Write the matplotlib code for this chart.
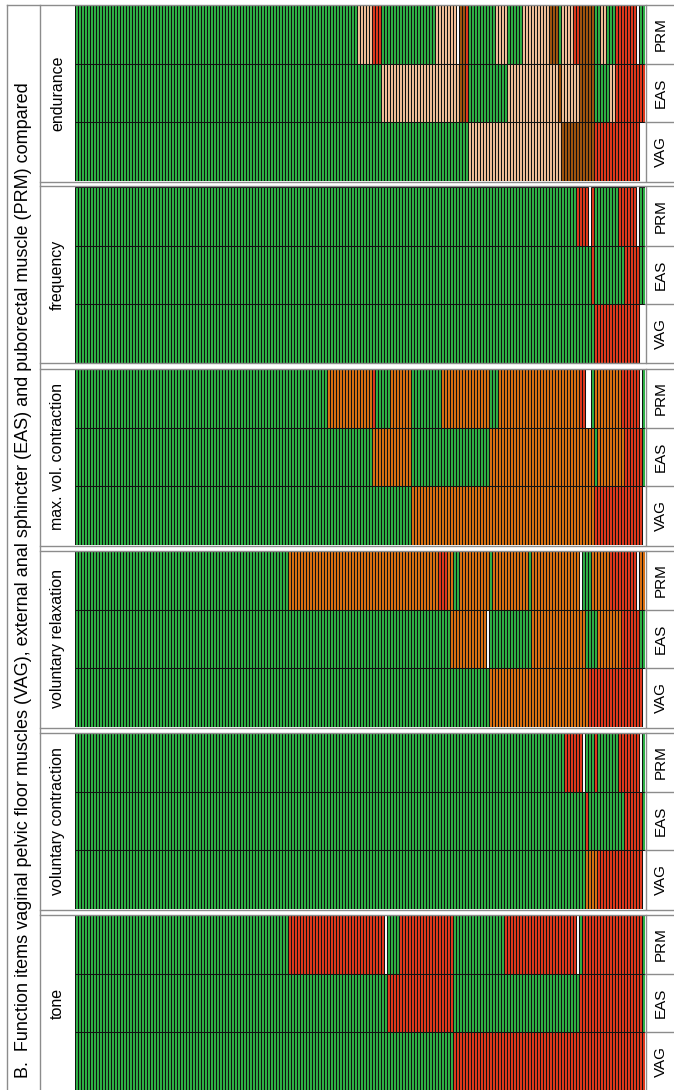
import numpy as np
import matplotlib
matplotlib.use("Agg")
import matplotlib.pyplot as plt
from matplotlib.lines import Line2D

plt.rcParams['font.family'] = ['Liberation Sans', 'DejaVu Sans']

# score colours per patient cell; "W" (missing) is left blank
COLORS = {
    "G": "#2fb447",
    "R": "#e4391d",
    "O": "#dd7211",
    "P": "#f6c39a",
    "B": "#a3560e",
}

TITLE = ("B.  Function items vaginal pelvic floor muscles (VAG), external anal "
         "sphincter (EAS) and puborectal muscle (PRM) compared")
panels = ["endurance", "frequency", "max. vol. contraction",
          "voluntary relaxation", "voluntary contraction", "tone"]
rows = ["PRM", "EAS", "VAG"]
n_patients = 190

# run-length coded scores, one patient per bar
endurance_prm = [("G", 94), ("P", 5), ("R", 3), ("G", 18), ("P", 7), ("W", 1),
                 ("B", 2), ("R", 1), ("G", 9), ("P", 4), ("G", 5), ("P", 9),
                 ("B", 3), ("G", 1), ("P", 4), ("R", 2), ("B", 5), ("G", 2),
                 ("P", 2), ("G", 3), ("R", 7), ("W", 1), ("G", 2)]
endurance_eas = [("G", 102), ("P", 26), ("B", 2), ("R", 1), ("G", 13), ("P", 17),
                 ("B", 1), ("P", 6), ("B", 5), ("G", 5), ("P", 2), ("R", 10)]
endurance_vag = [("G", 131), ("P", 31), ("B", 11), ("R", 15), ("W", 2)]

frequency_prm = [("G", 167), ("R", 4), ("W", 1), ("R", 1), ("G", 8), ("R", 6),
                 ("W", 1), ("G", 2)]
frequency_eas = [("G", 172), ("R", 1), ("G", 10), ("R", 5), ("G", 2)]
frequency_vag = [("G", 173), ("R", 15), ("W", 2)]

maxvol_prm = [("G", 84), ("O", 15), ("R", 1), ("G", 5), ("O", 7), ("G", 10),
              ("O", 16), ("G", 3), ("O", 27), ("R", 2), ("W", 2), ("G", 1),
              ("O", 9), ("R", 6), ("W", 1), ("G", 1)]
maxvol_eas = [("G", 99), ("O", 13), ("G", 26), ("O", 35), ("G", 1), ("O", 9),
              ("R", 6), ("G", 1)]
maxvol_vag = [("G", 112), ("O", 61), ("R", 16), ("W", 1)]

relax_prm = [("G", 71), ("O", 50), ("R", 3), ("O", 2), ("G", 2), ("O", 10),
             ("G", 1), ("O", 12), ("G", 1), ("O", 16), ("W", 1), ("G", 3),
             ("O", 6), ("R", 9), ("W", 1), ("O", 2)]
relax_eas = [("G", 125), ("O", 12), ("W", 1), ("G", 14), ("O", 18), ("G", 4),
             ("O", 8), ("R", 6), ("G", 2)]
relax_vag = [("G", 138), ("O", 33), ("R", 18), ("W", 1)]

contraction_prm = [("G", 163), ("R", 6), ("W", 1), ("G", 3), ("R", 1), ("G", 7),
                   ("R", 7), ("W", 1), ("G", 1)]
contraction_eas = [("G", 170), ("R", 1), ("G", 12), ("R", 6), ("G", 1)]
contraction_vag = [("G", 170), ("O", 4), ("R", 15), ("W", 1)]

tone_prm = [("G", 71), ("R", 32), ("W", 1), ("G", 4), ("R", 18), ("G", 17),
            ("R", 24), ("W", 1), ("G", 1), ("R", 20), ("G", 1)]
tone_eas = [("G", 104), ("R", 22), ("G", 42), ("R", 21), ("G", 1)]
tone_vag = [("G", 126), ("R", 64)]

scores = [
    [endurance_prm, endurance_eas, endurance_vag],
    [frequency_prm, frequency_eas, frequency_vag],
    [maxvol_prm, maxvol_eas, maxvol_vag],
    [relax_prm, relax_eas, relax_vag],
    [contraction_prm, contraction_eas, contraction_vag],
    [tone_prm, tone_eas, tone_vag],
]


def expand(runs):
    out = []
    for code, count in runs:
        out += [code] * count
    return out


W, H = 674, 1090
fig = plt.figure(figsize=(W / 100, H / 100), dpi=100)


def fx(x):
    return x / W


def fy(y):
    return 1 - y / H


def hline(y, x0, x1, color="#8c8c8c", lw=1.0):
    fig.add_artist(Line2D([fx(x0), fx(x1)], [fy(y), fy(y)], color=color, lw=lw))


def vline(x, y0, y1, color="#8c8c8c", lw=1.0):
    fig.add_artist(Line2D([fx(x), fx(x)], [fy(y0), fy(y1)], color=color, lw=lw))


# layout in pixels
x_left, x_title, x_data0, x_data1 = 7, 40, 75, 645
panel_top0, panel_pitch, panel_h = 5, 182, 176

# frame
hline(panel_top0, x_left, W)
vline(x_left, panel_top0, H)
vline(x_title, panel_top0, H)
fig.text(fx((x_left + x_title) / 2 + 0.5), fy(1078), TITLE,
         rotation=90, rotation_mode="anchor", ha="left", va="center",
         fontsize=13)

for i, (name, panel_scores) in enumerate(zip(panels, scores)):
    top = panel_top0 + panel_pitch * i
    bottom = top + panel_h
    ax = fig.add_axes([fx(x_data0), fy(bottom), fx(x_data1) - fx(x_data0),
                       fy(top) - fy(bottom)])
    for r, runs in enumerate(panel_scores):
        codes = expand(runs)
        idx = np.array([k for k, c in enumerate(codes) if c != "W"])
        cols = [COLORS[codes[k]] for k in idx]
        ax.bar(idx + 0.5, 1, width=1, bottom=r, color=cols,
               edgecolor="#111111", linewidth=0.75)
    ax.set_xlim(0, n_patients)
    ax.set_ylim(3, 0)
    ax.axis("off")

    # panel separators (double grey line)
    if i > 0:
        hline(top - 0.5, x_title, W)
    if i < len(panels) - 1:
        hline(bottom + 0.5, x_title, W)

    # panel name
    fig.text(fx((x_title + x_data0) / 2), fy((top + bottom) / 2), name,
             rotation=90, rotation_mode="anchor", ha="center", va="center",
             fontsize=11.5)

    # row label cells
    row_h = (bottom - top) / 3
    vline(x_data1 + 0.5, top, bottom)
    for r, lab in enumerate(rows):
        y0 = top + r * row_h
        if r > 0:
            hline(y0, x_data1, W)
        fig.text(fx((x_data1 + W) / 2 + 1), fy(y0 + row_h / 2), lab,
                 rotation=90, rotation_mode="anchor", ha="center", va="center",
                 fontsize=11)

fig.savefig("out.png", dpi=100)
